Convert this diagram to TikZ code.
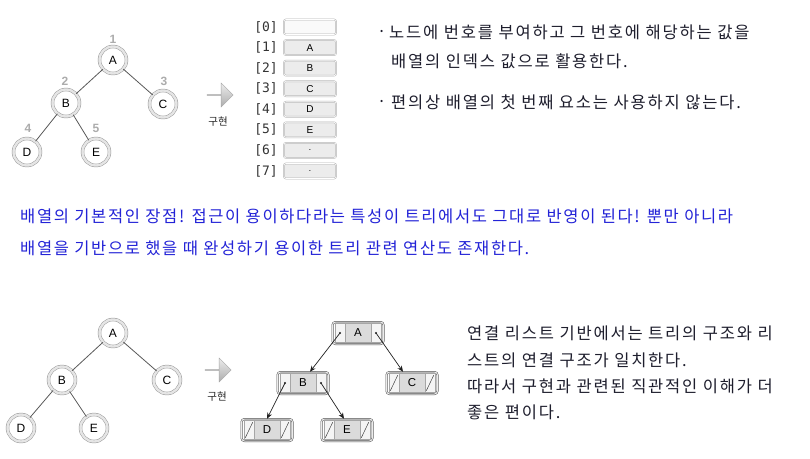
\documentclass[tikz,border=0pt]{standalone}
\usepackage{fontspec}
\setmainfont{Liberation Sans}
\newfontfamily\kr{Noto Sans CJK KR}
\newfontfamily\krsp[LetterSpace=11]{Noto Sans CJK KR}
\newfontfamily\krhand[LetterSpace=10]{Noto Sans CJK KR}
\newfontfamily\monof{DejaVu Sans Mono}
\usetikzlibrary{shapes.arrows,arrows.meta}
\definecolor{handblue}{RGB}{35,35,215}
\definecolor{txt}{RGB}{30,30,45}
\begin{document}
\begin{tikzpicture}[x=1pt,y=-1pt,
  tnode/.style={circle,minimum size=27,inner sep=0,fill=white,draw=gray!80,double=gray!20,double distance=2.4pt,line width=0.5pt,font=\fontsize{12}{12}\selectfont},
  tedge/.style={draw=gray!70!black,line width=0.8pt},
  num/.style={text=gray!65,font=\fontsize{12}{12}\selectfont\bfseries,inner sep=0},
  bigarrow/.style={single arrow,draw=gray!70,top color=gray!15,bottom color=gray!65,minimum height=26,minimum width=24,single arrow head extend=6.5,inner sep=0},
  impl/.style={font=\kr\fontsize{10.5}{10.5}\selectfont,text=black!85,inner sep=0},
  arrbox/.style={rounded corners=2,draw=gray!60,double=white,double distance=0.6pt,line width=0.5pt,fill=gray!15,minimum width=52,minimum height=15,inner sep=0,font=\fontsize{10}{10}\selectfont},
  idx/.style={font=\monof\fontsize{13}{13}\selectfont,text=black!80,inner sep=0},
  lframe/.style={rounded corners=3,draw=gray!65!black,double=gray!15,double distance=1pt,line width=0.5pt,minimum width=51,minimum height=22,fill=white,inner sep=0},
  lmid/.style={draw=gray!70,fill=gray!28,minimum width=26,minimum height=19,inner sep=0,font=\fontsize{11.5}{11.5}\selectfont},
  lside/.style={draw=gray!70,fill=gray!8,minimum width=10,minimum height=19,inner sep=0},
  ptr/.style={-{Stealth[length=6,width=5]},draw=gray!25!black,line width=0.7pt},
  nul/.style={draw=gray!50!black,line width=0.5pt},
  krtxt/.style={font=\krsp\fontsize{16.5}{16.5}\selectfont,text=txt,anchor=west,inner sep=0},
  handtxt/.style={font=\krhand\fontsize{16.5}{16.5}\selectfont,text=handblue,anchor=west,inner sep=0}
]
\useasboundingbox[fill=white] (0,0) rectangle (810,458);

% ---------- top tree ----------
\node[tnode] (tA) at (113,60) {A};
\node[tnode] (tB) at (66,103) {B};
\node[tnode] (tC) at (163,104) {C};
\node[tnode] (tD) at (27,152) {D};
\node[tnode] (tE) at (96,152) {E};
\draw[tedge] (tA) -- (tB);
\draw[tedge] (tA) -- (tC);
\draw[tedge] (tB) -- (tD);
\draw[tedge] (tB) -- (tE);
\node[num] (n1) at (113,39) {1};
\node[num] (n2) at (65,81) {2};
\node[num] (n3) at (164,81) {3};
\node[num] (n4) at (28,128) {4};
\node[num] (n5) at (96,128) {5};

\node[bigarrow] (ar1) at (220,95) {};
\node[impl] (im1) at (218,122) {구현};

% ---------- array ----------
\foreach \i/\v in {1/A,2/B,3/C,4/D,5/E,6/$\cdot$,7/$\cdot$}{
  \node[arrbox] (box\i) at (310,{27+20.57*\i}) {\v};
  \node[idx] (idx\i) at (266,{27+20.57*\i}) {[\i]};
}
\node[arrbox,fill=gray!4] (box0) at (310,27) {};
\node[idx] (idx0) at (266,27) {[0]};

% ---------- top right text ----------
\node[krtxt] (b1) at (377,34) {·};
\node[krtxt] (t1) at (389,32) {노드에 번호를 부여하고 그 번호에 해당하는 값을};
\node[krtxt] (t2) at (391,61) {배열의 인덱스 값으로 활용한다.};
\node[krtxt] (b2) at (377,104) {·};
\node[krtxt] (t3) at (391,102) {편의상 배열의 첫 번째 요소는 사용하지 않는다.};

% ---------- blue text ----------
\node[handtxt] (h1) at (20,216) {배열의 기본적인 장점! 접근이 용이하다라는 특성이 트리에서도 그대로 반영이 된다! 뿐만 아니라};
\node[handtxt] (h2) at (20,248) {배열을 기반으로 했을 때 완성하기 용이한 트리 관련 연산도 존재한다.};

% ---------- bottom tree ----------
\node[tnode] (bA) at (113,333) {A};
\node[tnode] (bB) at (62,380) {B};
\node[tnode] (bC) at (167,380) {C};
\node[tnode] (bD) at (21,428) {D};
\node[tnode] (bE) at (94,428) {E};
\draw[tedge] (bA) -- (bB);
\draw[tedge] (bA) -- (bC);
\draw[tedge] (bB) -- (bD);
\draw[tedge] (bB) -- (bE);

\node[bigarrow] (ar2) at (218,370) {};
\node[impl] (im2) at (217,397) {구현};

% ---------- linked nodes ----------
\foreach \n/\x/\y/\t in {LA/358/333/A,LB/303/383/B,LC/412/383/C,LD/267/430/D,LE/347/430/E}{
  \node[lframe] (\n) at (\x,\y) {};
  \node[lmid] (\n-m) at (\n.center) {\t};
  \node[lside] (\n-l) at ([xshift=-18]\n.center) {};
  \node[lside] (\n-r) at ([xshift=18]\n.center) {};
}
\foreach \n in {LC,LD,LE}{
  \draw[nul] ([shift={(1.5,-2)}]\n-l.south west) -- ([shift={(-1.5,2)}]\n-l.north east);
  \draw[nul] ([shift={(1.5,-2)}]\n-r.south west) -- ([shift={(-1.5,2)}]\n-r.north east);
}
\foreach \n in {LA-l,LA-r,LB-l,LB-r}{
  \fill[gray!25!black] (\n.center) circle (1.2);
}
\draw[ptr] (LA-l.center) -- ([xshift=7]LB.north);
\draw[ptr] (LA-r.center) -- ([xshift=-9]LC.north);
\draw[ptr] (LB-l.center) -- (LD.north);
\draw[ptr] (LB-r.center) -- ([xshift=-3]LE.north);

% ---------- bottom right text ----------
\node[krtxt] (r1) at (467,333) {연결 리스트 기반에서는 트리의 구조와 리};
\node[krtxt] (r2) at (467,360) {스트의 연결 구조가 일치한다.};
\node[krtxt] (r3) at (467,386) {따라서 구현과 관련된 직관적인 이해가 더};
\node[krtxt] (r4) at (467,412) {좋은 편이다.};
\end{tikzpicture}
\end{document}
